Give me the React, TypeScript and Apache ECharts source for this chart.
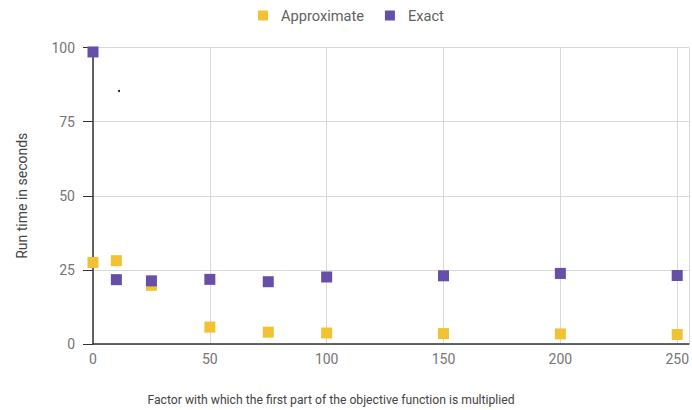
import React, { useEffect, useRef } from "react";
import * as echarts from "echarts";

const factors = [0, 10, 25, 50, 75, 100, 150, 200, 250];
const approximate = [27.5, 28.1, 19.8, 5.7, 4.0, 3.7, 3.5, 3.4, 3.2];
const exact = [98.5, 21.7, 21.3, 21.8, 21.0, 22.6, 23.0, 23.8, 23.1];
const seriesNames = ["Approximate", "Exact"];
const colors = ["#F1C232", "#674EA7"];
const xTitle = "Factor with which the first part of the objective function is multiplied";
const yTitle = "Run time in seconds";

export default function App() {
  const ref = useRef<HTMLDivElement>(null);
  useEffect(() => {
    if (!ref.current) return;
    const chart = echarts.init(ref.current, null, { renderer: "svg" });
    const font = "Roboto";
    chart.setOption({
      animation: false,
      textStyle: { fontFamily: font },
      legend: {
        top: 3,
        left: 253,
        icon: "rect",
        itemWidth: 10,
        itemHeight: 10,
        itemGap: 21,
        textStyle: { fontFamily: font, fontSize: 14.6, color: "#5f5f5f", padding: [0, 0, 0, 8] },
        data: seriesNames,
      },
      grid: { left: 93, right: 0, top: 47.5, bottom: 66, containLabel: false },
      xAxis: {
        type: "value",
        min: 0,
        max: 255,
        interval: 50,
        axisLine: { show: true, onZero: false, lineStyle: { color: "#333", width: 1.5 } },
        axisTick: { show: false },
        splitLine: { show: true, lineStyle: { color: "#d9d9d9", width: 1 } },
        axisLabel: {
          fontFamily: font,
          fontSize: 14,
          color: "#757575",
          margin: 8,
          showMaxLabel: false,
          formatter: (v: number) => (v % 50 === 0 ? String(v) : ""),
        },
      },
      yAxis: {
        type: "value",
        min: 0,
        max: 100,
        interval: 25,
        name: yTitle,
        nameLocation: "middle",
        nameGap: 64,
        nameTextStyle: { fontFamily: font, fontSize: 14, color: "#444" },
        axisLine: { show: true, lineStyle: { color: "#333", width: 1.5 } },
        axisTick: { show: true, length: 10, lineStyle: { color: "#333" } },
        splitLine: { show: true, lineStyle: { color: "#d9d9d9", width: 1 } },
        axisLabel: { fontFamily: font, fontSize: 14, color: "#757575", margin: 18 },
      },
      graphic: [
        {
          type: "text",
          x: 331,
          y: 400,
          style: {
            text: xTitle,
            fontFamily: font,
            fontSize: 12.2,
            fill: "#444",
            align: "center",
            verticalAlign: "middle",
          },
        },
        { type: "circle", shape: { cx: 119, cy: 91, r: 1 }, style: { fill: "#000" } },
      ],
      series: [
        {
          name: seriesNames[0],
          type: "scatter",
          symbol: "rect",
          symbolSize: 11,
          itemStyle: { color: colors[0], opacity: 1 },
          data: factors.map((f, i) => [f, approximate[i]]),
        },
        {
          name: seriesNames[1],
          type: "scatter",
          symbol: "rect",
          symbolSize: 11,
          itemStyle: { color: colors[1], opacity: 1 },
          data: factors.map((f, i) => [f, exact[i]]),
        },
      ],
    });
    return () => chart.dispose();
  }, []);
  return (
    <div
      ref={ref}
      style={{ position: "absolute", left: 0, top: 0, width: 692, height: 410 }}
    />
  );
}
